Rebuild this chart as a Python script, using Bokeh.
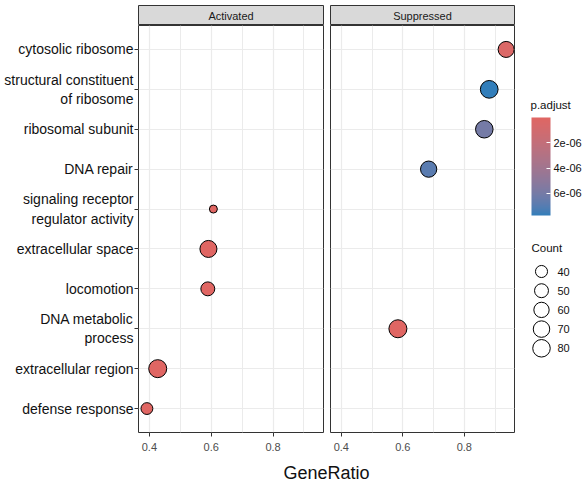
import numpy as np
from bokeh.plotting import figure
from bokeh.layouts import row, column
from bokeh.models import (ColumnDataSource, FactorRange, Range1d, FixedTicker,
                          LinearColorMapper, ColorBar, CustomJSTickFormatter)
from bokeh.core.properties import value
from bokeh.embed import file_html
from bokeh.resources import INLINE

# ---------------- data ----------------
terms_top_to_bottom = [
    "cytosolic ribosome",
    "structural constituent\nof ribosome",
    "ribosomal subunit",
    "DNA repair",
    "signaling receptor\nregulator activity",
    "extracellular space",
    "locomotion",
    "DNA metabolic\nprocess",
    "extracellular region",
    "defense response",
]

act_terms = ["signaling receptor\nregulator activity", "extracellular space",
             "locomotion", "extracellular region", "defense response"]
act_ratio = [0.607, 0.591, 0.589, 0.427, 0.392]
act_count = [31, 75, 50, 85, 39]
act_padj = [2.0e-9, 1.1e-10, 4.5e-9, 3.0e-12, 8.0e-9]

sup_terms = ["cytosolic ribosome", "structural constituent\nof ribosome",
             "ribosomal subunit", "DNA repair", "DNA metabolic\nprocess"]
sup_ratio = [0.936, 0.881, 0.865, 0.684, 0.584]
sup_count = [66, 82, 80, 68, 85]
sup_padj = [3.5e-7, 7.75e-6, 6.0e-6, 6.9e-6, 1.0e-9]

x_ticks = [0.4, 0.6, 0.8]
x_minor = [0.3, 0.5, 0.7, 0.9]
padj_ticks = [2e-6, 4e-6, 6e-6]
legend_counts = [40, 50, 60, 70, 80]

facet_names = ["Activated", "Suppressed"]

# ---------------- styling helpers ----------------
FONT = "Liberation Sans"
LOW_COL = "#e06663"   # small p.adjust
HIGH_COL = "#327eba"  # large p.adjust

M = np.array([[0.4124, 0.3576, 0.1805], [0.2126, 0.7152, 0.0722], [0.0193, 0.1192, 0.9505]])
WP = np.array([0.95047, 1.0, 1.08883])


def hex_to_lab(h):
    rgb = np.array([int(h[i:i + 2], 16) for i in (1, 3, 5)]) / 255.0
    lin = np.where(rgb <= 0.04045, rgb / 12.92, ((rgb + 0.055) / 1.055) ** 2.4)
    t = (M @ lin) / WP
    f = np.where(t > (6 / 29) ** 3, np.cbrt(t), t / (3 * (6 / 29) ** 2) + 4 / 29)
    return np.array([116 * f[1] - 16, 500 * (f[0] - f[1]), 200 * (f[1] - f[2])])


def lab_to_hex(lab):
    L, a, b = lab
    fy = (L + 16) / 116
    f = np.array([fy + a / 500, fy, fy - b / 200])
    t = np.where(f > 6 / 29, f ** 3, 3 * (6 / 29) ** 2 * (f - 4 / 29))
    lin = np.clip(np.linalg.inv(M) @ (t * WP), 0, 1)
    rgb = np.where(lin <= 0.0031308, 12.92 * lin, 1.055 * lin ** (1 / 2.4) - 0.055)
    return "#%02x%02x%02x" % tuple(int(round(v * 255)) for v in np.clip(rgb, 0, 1))


lab_hi, lab_lo = hex_to_lab(HIGH_COL), hex_to_lab(LOW_COL)
palette = [lab_to_hex(lab_hi + (lab_lo - lab_hi) * t) for t in np.linspace(0, 1, 256)]

all_p = act_padj + sup_padj
mapper = LinearColorMapper(palette=palette, low=max(all_p), high=min(all_p))

all_c = act_count + sup_count
cmin, cmax = min(all_c), max(all_c)


def size_px(c):
    return 8 + 10 * np.sqrt((c - cmin) / (cmax - cmin))


all_r = act_ratio + sup_ratio
rlo, rhi = min(all_r), max(all_r)
rpad = 0.05 * (rhi - rlo)

TOP_B = 5
LEFT_B = 138
FRAME_WL = 185
FRAME_WR = 184
GAP = 6
FRAME_H = 407
BOTTOM_B = 25
STRIP_H = 20
TITLE_H = 27
GRID = "#EBEBEB"
DARK = "#333333"


def make_panel(terms, ratio, count, padj, show_y, fw):
    src = ColumnDataSource(dict(term=terms, ratio=ratio, count=count, padj=padj,
                                size=[float(size_px(c)) for c in count]))
    p = figure(y_range=FactorRange(factors=list(reversed(terms_top_to_bottom)),
                                   range_padding=0.1, range_padding_units="absolute"),
               x_range=Range1d(rlo - rpad, rhi + rpad),
               frame_width=fw, frame_height=FRAME_H,
               min_border_left=LEFT_B if show_y else GAP, min_border_right=1,
               min_border_top=0, min_border_bottom=BOTTOM_B,
               toolbar_location=None, output_backend="svg", tools="")
    p.scatter("ratio", "term", size="size", source=src,
              fill_color={"field": "padj", "transform": mapper},
              line_color="black", line_width=1)
    p.outline_line_color = DARK
    p.outline_line_width = 1
    p.xaxis.ticker = FixedTicker(ticks=x_ticks, minor_ticks=x_minor)
    p.xaxis.axis_line_color = None
    p.xaxis.major_tick_line_color = DARK
    p.xaxis.major_tick_out = 4
    p.xaxis.major_tick_in = 0
    p.xaxis.minor_tick_line_color = None
    p.xaxis.major_label_text_font = FONT
    p.xaxis.major_label_text_font_size = "11px"
    p.xaxis.major_label_text_color = "#4D4D4D"
    p.xaxis.major_label_standoff = 6
    p.xgrid.grid_line_color = GRID
    p.xgrid.minor_grid_line_color = GRID
    p.xgrid.grid_line_width = 1.2
    p.xgrid.minor_grid_line_width = 1
    p.ygrid.grid_line_color = GRID
    p.ygrid.grid_line_width = 1.2
    if show_y:
        p.yaxis.axis_line_color = None
        p.yaxis.major_tick_line_color = DARK
        p.yaxis.major_tick_out = 4
        p.yaxis.major_tick_in = 0
        p.yaxis.major_label_text_font = FONT
        p.yaxis.major_label_text_font_size = "14px"
        p.yaxis.major_label_text_color = "#111111"
        p.yaxis.major_label_standoff = 1
    else:
        p.yaxis.visible = False
    return p


def make_strip(label, left_border, fw):
    s = figure(x_range=Range1d(0, 1), y_range=Range1d(0, 1),
               frame_width=fw, frame_height=STRIP_H,
               min_border_left=left_border, min_border_right=1,
               min_border_top=TOP_B, min_border_bottom=0,
               x_axis_type=None, y_axis_type=None,
               toolbar_location=None, output_backend="svg", tools="")
    s.background_fill_color = "#D9D9D9"
    s.outline_line_color = DARK
    s.outline_line_width = 1
    s.text(x=[0.5], y=[0.5], text=[label], text_align="center", text_baseline="middle",
           text_font=value(FONT), text_font_size="11px", text_color="#1A1A1A")
    return s


pL = make_panel(act_terms, act_ratio, act_count, act_padj, True, FRAME_WL)
pR = make_panel(sup_terms, sup_ratio, sup_count, sup_padj, False, FRAME_WR)
sL = make_strip(facet_names[0], LEFT_B, FRAME_WL)
sR = make_strip(facet_names[1], GAP, FRAME_WR)

main_w = LEFT_B + FRAME_WL + 1 + GAP + FRAME_WR + 1
tfig = figure(x_range=Range1d(0, main_w), y_range=Range1d(TITLE_H, 0),
              frame_width=main_w, frame_height=TITLE_H,
              min_border_left=0, min_border_right=0, min_border_top=0, min_border_bottom=0,
              x_axis_type=None, y_axis_type=None,
              toolbar_location=None, output_backend="svg", tools="")
tfig.outline_line_color = None
x_center = (LEFT_B + (main_w - 1)) / 2
tfig.text(x=[x_center], y=[15], text=["GeneRatio"], text_align="center",
          text_baseline="middle", text_font=value(FONT), text_font_size="18px",
          text_color="#111111")

# ---------------- legend ----------------
total_h = TOP_B + STRIP_H + FRAME_H + BOTTOM_B + TITLE_H
LEG_W = 69
leg = figure(x_range=Range1d(0, LEG_W), y_range=Range1d(total_h, 0),
             frame_width=LEG_W, frame_height=total_h,
             min_border_left=0, min_border_right=0, min_border_top=0, min_border_bottom=0,
             x_axis_type=None, y_axis_type=None,
             toolbar_location=None, output_backend="svg", tools="")
leg.outline_line_color = None

fmt = CustomJSTickFormatter(code=r"""
const s = tick.toExponential(0);
return s.replace(/e([+-])(\d)$/, (m, sg, d) => "e" + sg + "0" + d);
""")
cb = ColorBar(color_mapper=mapper, ticker=FixedTicker(ticks=padj_ticks), formatter=fmt,
              width=19, height=98,
              major_label_text_font=FONT, major_label_text_font_size="11px",
              major_label_text_color="#111111", label_standoff=3,
              major_tick_line_color="white", major_tick_in=4, major_tick_out=0,
              bar_line_color=None, padding=0, margin=0,
              background_fill_color=None, border_line_color=None,
              location=(16, total_h - 215))
leg.add_layout(cb, "center")

leg.text(x=[15], y=[104], text=["p.adjust"], text_align="left", text_baseline="middle",
         text_font=value(FONT), text_font_size="11.5px", text_color="#111111")
leg.text(x=[16], y=[247], text=["Count"], text_align="left", text_baseline="middle",
         text_font=value(FONT), text_font_size="11.5px", text_color="#111111")
leg_y = [271 + 19.2 * i for i in range(len(legend_counts))]
leg.scatter(x=[26] * len(legend_counts), y=leg_y,
            size=[float(size_px(c)) for c in legend_counts],
            fill_color=None, line_color="black", line_width=1)
leg.text(x=[42] * len(legend_counts), y=leg_y, text=[str(c) for c in legend_counts],
         text_align="left", text_baseline="middle", text_font=value(FONT),
         text_font_size="11px", text_color="#111111")

layout = row(column(row(sL, sR), row(pL, pR), tfig), leg)

open("out.html", "w").write(file_html(layout, INLINE))
